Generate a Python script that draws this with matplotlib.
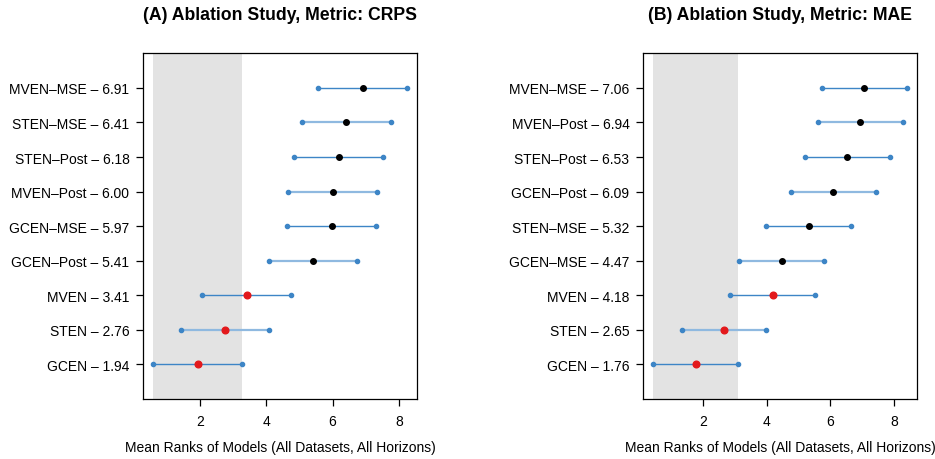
import matplotlib
matplotlib.use("Agg")
import matplotlib.pyplot as plt

plt.rcParams["font.family"] = ["Liberation Sans", "DejaVu Sans"]

# half width of the intervals (critical distance)
cd = 1.335

# panel A (bottom to top)
models_a = ["GCEN", "STEN", "MVEN", "GCEN–Post", "GCEN–MSE",
            "MVEN–Post", "STEN–Post", "STEN–MSE", "MVEN–MSE"]
ranks_a = [1.94, 2.76, 3.41, 5.41, 5.97, 6.00, 6.18, 6.41, 6.91]

# panel B (bottom to top)
models_b = ["GCEN", "STEN", "MVEN", "GCEN–MSE", "STEN–MSE",
            "GCEN–Post", "STEN–Post", "MVEN–Post", "MVEN–MSE"]
ranks_b = [1.76, 2.65, 4.18, 4.47, 5.32, 6.09, 6.53, 6.94, 7.06]

base_models = ["GCEN", "STEN", "MVEN"]
titles = ["(A) Ablation Study, Metric: CRPS", "(B) Ablation Study, Metric: MAE"]
xlabel = "Mean Ranks of Models (All Datasets, All Horizons)"
xticks = [2, 4, 6, 8]

dark_blue = "#3d85c6"
light_blue = "#8fb9e0"
red = "#e3191c"


def draw_panel(ax, models, ranks, title):
    lo = [r - cd for r in ranks]
    hi = [r + cd for r in ranks]
    ypos = list(range(1, len(models) + 1))

    # shaded band = interval of the best model
    ax.axvspan(lo[0], hi[0], color="#e3e3e3", lw=0, zorder=0)

    for i, y in enumerate(ypos):
        if i % 2 == 0:
            ax.plot([lo[i], hi[i]], [y, y], color=dark_blue, lw=1.0, zorder=2)
        else:
            ax.plot([lo[i], hi[i]], [y, y], color=light_blue, lw=1.6, zorder=2)
        ax.plot([lo[i], hi[i]], [y, y], ls="none", marker="o", ms=3.0,
                color=dark_blue, zorder=3)
        if models[i] in base_models:
            ax.plot(ranks[i], y, marker="o", ms=4.8, color=red, zorder=4)
        else:
            ax.plot(ranks[i], y, marker="o", ms=4.0, color="black", zorder=4)

    span = max(hi) - min(lo)
    ax.set_xlim(min(lo) - 0.04 * span, max(hi) + 0.04 * span)
    ax.set_ylim(0, len(models) + 1)
    ax.set_yticks(ypos)
    ax.set_yticklabels([f"{m} – {r:.2f}" for m, r in zip(models, ranks)], fontsize=10)
    ax.set_xticks(xticks)
    ax.set_xticklabels([str(t) for t in xticks], fontsize=10)
    ax.tick_params(axis="y", length=5, width=0.9, pad=5)
    ax.tick_params(axis="x", length=5, width=0.9, pad=6)
    for s in ax.spines.values():
        s.set_linewidth(0.9)
    ax.text(0.5, 1.113, title, transform=ax.transAxes, ha="center", va="center",
            fontsize=12.7, fontweight="bold")
    ax.text(0.5, -0.139, xlabel, transform=ax.transAxes, ha="center", va="center",
            fontsize=10)


fig = plt.figure(figsize=(9.35, 4.6), dpi=100)
ax1 = fig.add_axes([0.1533, 0.1304, 0.2930, 0.7515])
ax2 = fig.add_axes([0.6880, 0.1304, 0.2924, 0.7515])

draw_panel(ax1, models_a, ranks_a, titles[0])
draw_panel(ax2, models_b, ranks_b, titles[1])

fig.savefig("out.png", dpi=100)
